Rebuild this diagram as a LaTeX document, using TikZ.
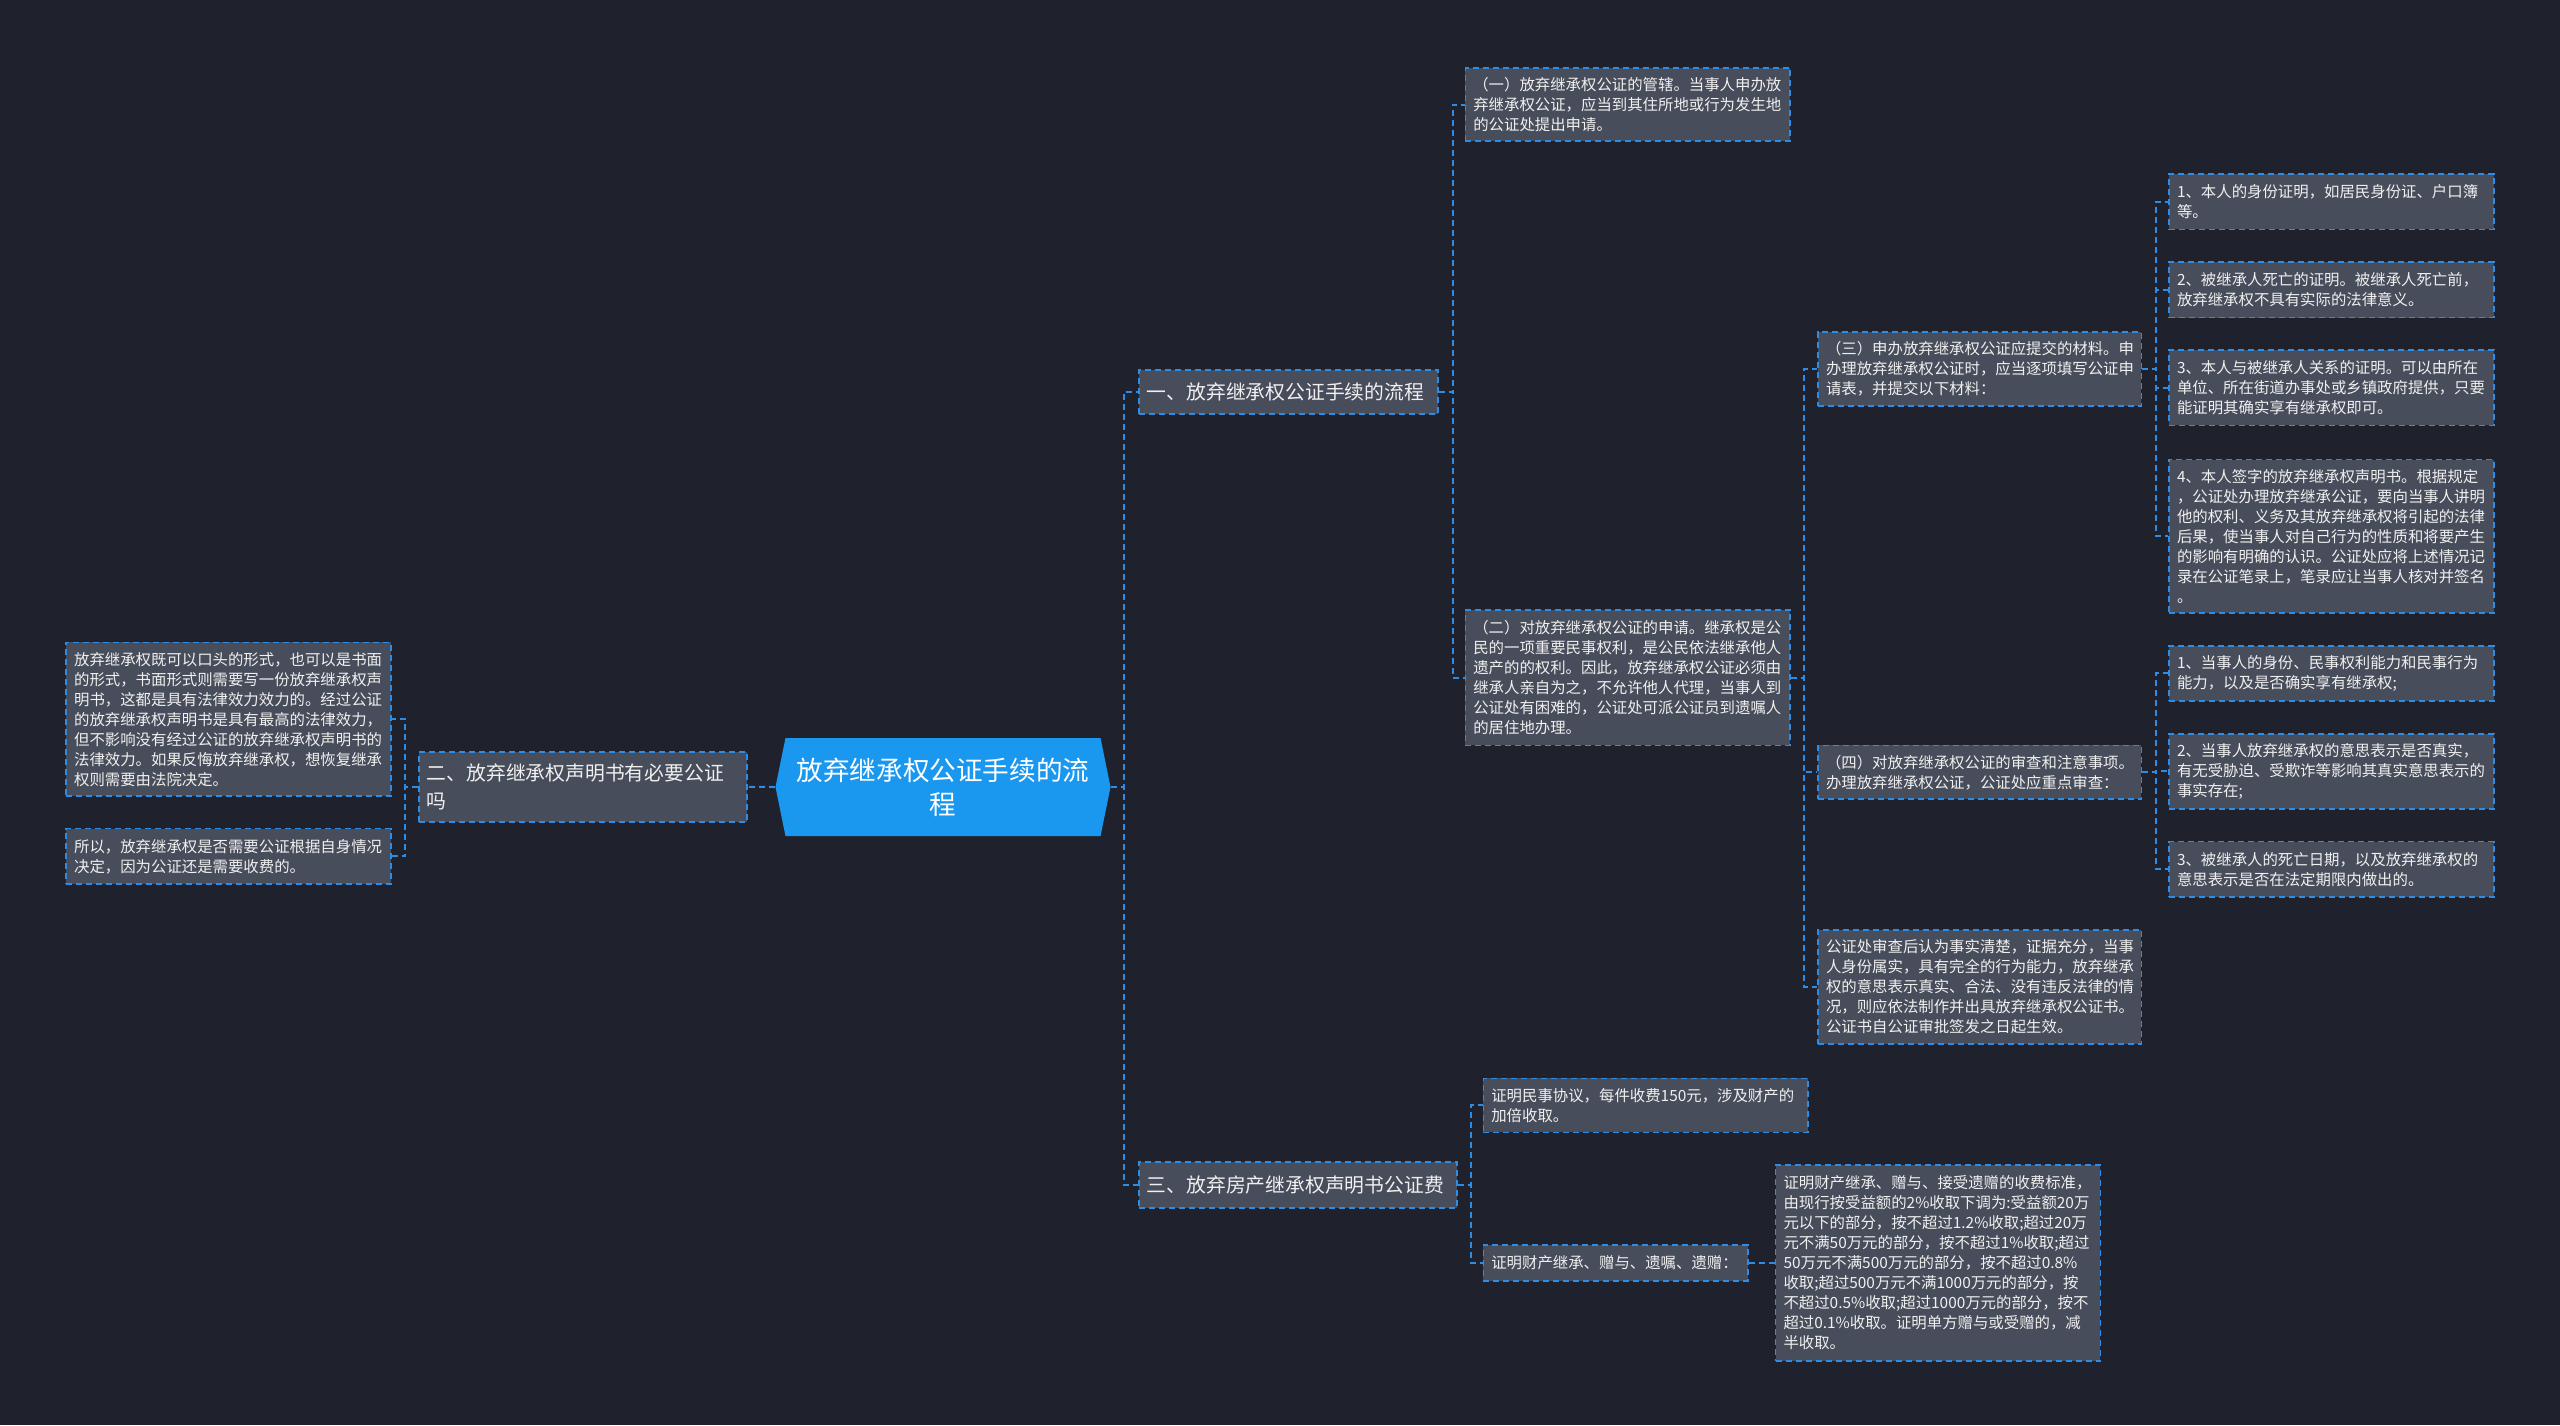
\documentclass[tikz,border=0pt]{standalone}
\usepackage{fontspec}
\newfontfamily\cjk{Noto Sans CJK SC}
\usetikzlibrary{shapes.symbols}
\definecolor{bg}{RGB}{31,34,45}
\definecolor{boxfill}{RGB}{72,77,91}
\definecolor{linec}{RGB}{45,140,230}
\definecolor{rootc}{RGB}{26,152,240}
\definecolor{txt}{RGB}{240,240,240}
\tikzset{
  conn/.style={draw=linec, line width=1pt, dash pattern=on 3pt off 2pt},
  boxbase/.style={rectangle, draw=linec, line width=0.8pt, dash pattern=on 3pt off 2pt,
    fill=boxfill, text=txt, align=left, inner xsep=4pt, inner ysep=2pt},
  leafbox/.style={boxbase, font=\cjk\fontsize{7.7}{10}\selectfont},
  branchbox/.style={boxbase, font=\cjk\fontsize{9.9}{14}\selectfont},
  rootbox/.style={shape=signal, signal to=west and east, signal pointer angle=157,
    fill=rootc, text=white, font=\cjk\fontsize{13.3}{17}\selectfont, align=center, inner sep=0pt},
}
\newcommand\mkbox[7]{%
  \pgfmathsetmacro\mkbw{(#4-#2)*0.5}%
  \pgfmathsetmacro\mkbh{(#5-#3)*0.5}%
  \pgfmathsetmacro\mktw{(#4-#2)*0.5-8}%
  \node[#6, minimum width=\mkbw pt, minimum height=\mkbh pt, text width=\mktw pt, anchor=north west] (#1) at (#2,#3) {#7};%
}
\begin{document}
\begin{tikzpicture}[x=0.5pt,y=-0.5pt]
\fill[bg] (0,0) rectangle (2560,1425);
\useasboundingbox (0,0) rectangle (2560,1425);

% root
\node[rootbox, minimum width=167.5pt, minimum height=49pt] (root) at (943,787) {放弃继承权公证手续的流\\程};

% branches
\mkbox{b1}{1138}{369}{1437}{413}{branchbox}{一、放弃继承权公证手续的流程}
\mkbox{b2}{418}{751}{746}{821}{branchbox}{二、放弃继承权声明书有必要公证\\吗}
\mkbox{b3}{1138}{1161}{1456}{1207}{branchbox}{三、放弃房产继承权声明书公证费}

% branch 1 leaves
\mkbox{L1}{1464.5}{67}{1789.4}{140.4}{leafbox}{（一）放弃继承权公证的管辖。当事人申办放\\弃继承权公证，应当到其住所地或行为发生地\\的公证处提出申请。}
\mkbox{L2}{1464.5}{609}{1789.4}{744.5}{leafbox}{（二）对放弃继承权公证的申请。继承权是公\\民的一项重要民事权利，是公民依法继承他人\\遗产的的权利。因此，放弃继承权公证必须由\\继承人亲自为之，不允许他人代理，当事人到\\公证处有困难的，公证处可派公证员到遗嘱人\\的居住地办理。}
\mkbox{L3}{1817.2}{331.4}{2140.5}{404.9}{leafbox}{（三）申办放弃继承权公证应提交的材料。申\\办理放弃继承权公证时，应当逐项填写公证申\\请表，并提交以下材料：}
\mkbox{L4}{1817.2}{744.5}{2140.5}{798.4}{leafbox}{（四）对放弃继承权公证的审查和注意事项。\\办理放弃继承权公证，公证处应重点审查：}
\mkbox{L5}{1817.2}{929}{2140.5}{1043.3}{leafbox}{公证处审查后认为事实清楚，证据充分，当事\\人身份属实，具有完全的行为能力，放弃继承\\权的意思表示真实、合法、没有违反法律的情\\况，则应依法制作并出具放弃继承权公证书。\\公证书自公证审批签发之日起生效。}

\mkbox{t1}{2168.2}{173.1}{2493.1}{228.6}{leafbox}{1、本人的身份证明，如居民身份证、户口簿\\等。}
\mkbox{t2}{2168.2}{261.2}{2493.1}{316.7}{leafbox}{2、被继承人死亡的证明。被继承人死亡前，\\放弃继承权不具有实际的法律意义。}
\mkbox{t3}{2168.2}{349.4}{2493.1}{424.5}{leafbox}{3、本人与被继承人关系的证明。可以由所在\\单位、所在街道办事处或乡镇政府提供，只要\\能证明其确实享有继承权即可。}
\mkbox{t4}{2168.2}{458.8}{2493.1}{612.3}{leafbox}{4、本人签字的放弃继承权声明书。根据规定\\，公证处办理放弃继承公证，要向当事人讲明\\他的权利、义务及其放弃继承权将引起的法律\\后果，使当事人对自己行为的性质和将要产生\\的影响有明确的认识。公证处应将上述情况记\\录在公证笔录上，笔录应让当事人核对并签名\\。}

\mkbox{f1}{2168.2}{644.9}{2493.1}{700.4}{leafbox}{1、当事人的身份、民事权利能力和民事行为\\能力，以及是否确实享有继承权;}
\mkbox{f2}{2168.2}{733.1}{2493.1}{808.2}{leafbox}{2、当事人放弃继承权的意思表示是否真实，\\有无受胁迫、受欺诈等影响其真实意思表示的\\事实存在;}
\mkbox{f3}{2168.2}{840.8}{2493.1}{896.3}{leafbox}{3、被继承人的死亡日期，以及放弃继承权的\\意思表示是否在法定期限内做出的。}

% branch 2 leaves
\mkbox{A}{65.3}{641.6}{390.2}{795.1}{leafbox}{放弃继承权既可以口头的形式，也可以是书面\\的形式，书面形式则需要写一份放弃继承权声\\明书，这都是具有法律效力效力的。经过公证\\的放弃继承权声明书是具有最高的法律效力，\\但不影响没有经过公证的放弃继承权声明书的\\法律效力。如果反悔放弃继承权，想恢复继承\\权则需要由法院决定。}
\mkbox{B}{65.3}{827.8}{390.2}{883.3}{leafbox}{所以，放弃继承权是否需要公证根据自身情况\\决定，因为公证还是需要收费的。}

% branch 3 leaves
\mkbox{C1}{1482.5}{1077.6}{1807.4}{1131.5}{leafbox}{证明民事协议，每件收费150元，涉及财产的\\加倍收取。}
\mkbox{C2}{1482.5}{1244.1}{1747}{1280}{leafbox}{证明财产继承、赠与、遗嘱、遗赠：}
\mkbox{C3}{1774.7}{1164.1}{2099.6}{1360}{leafbox}{证明财产继承、赠与、接受遗赠的收费标准，\\由现行按受益额的2\%收取下调为:受益额20万\\元以下的部分，按不超过1.2\%收取;超过20万\\元不满50万元的部分，按不超过1\%收取;超过\\50万元不满500万元的部分，按不超过0.8\%\\收取;超过500万元不满1000万元的部分，按\\不超过0.5\%收取;超过1000万元的部分，按不\\超过0.1\%收取。证明单方赠与或受赠的，减\\半收取。}

% connectors
\draw[conn] (root.east) -- ++(13,0) |- (b1.west);
\draw[conn] (root.east) -- ++(13,0) |- (b3.west);
\draw[conn] (root.west) -- (b2.east);
\draw[conn] (b2.west) -- ++(-13,0) |- (A.east);
\draw[conn] (b2.west) -- ++(-13,0) |- (B.east);
\draw[conn] (b1.east) -- ++(14,0) |- (L1.west);
\draw[conn] (b1.east) -- ++(14,0) |- (L2.west);
\draw[conn] (L2.east) -- ++(13,0) |- (L3.west);
\draw[conn] (L2.east) -- ++(13,0) |- (L4.west);
\draw[conn] (L2.east) -- ++(13,0) |- (L5.west);
\foreach \t in {t1,t2,t3,t4}{\draw[conn] (L3.east) -- ++(14,0) |- (\t.west);}
\foreach \t in {f1,f2,f3}{\draw[conn] (L4.east) -- ++(14,0) |- (\t.west);}
\draw[conn] (b3.east) -- ++(13,0) |- (C1.west);
\draw[conn] (b3.east) -- ++(13,0) |- (C2.west);
\draw[conn] (C2.east) -- (C3.west);
\end{tikzpicture}
\end{document}
